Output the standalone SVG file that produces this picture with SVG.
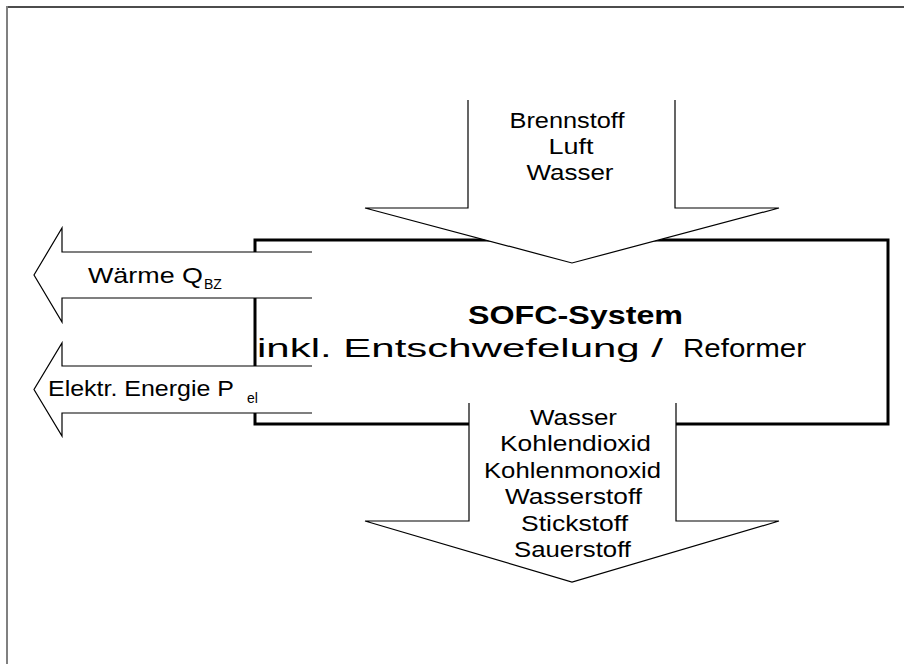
<svg xmlns="http://www.w3.org/2000/svg" width="904" height="664" viewBox="0 0 904 664">
  <style>
    .t { font-family: "Liberation Sans", Arial, sans-serif; font-size: 22px; fill: #000; }
    .big { font-family: "Liberation Sans", Arial, sans-serif; font-size: 25px; fill: #000; }
    .sub { font-family: "Liberation Sans", Arial, sans-serif; font-size: 14px; fill: #000; }
    .arrow { fill: #fff; stroke: #000; stroke-width: 1.2; stroke-linejoin: miter; }
  </style>
  <rect x="0" y="0" width="904" height="664" fill="#fff"/>
  <!-- page frame -->
  <line x1="6" y1="7" x2="904" y2="7" stroke="#111" stroke-width="1.5"/>
  <line x1="7" y1="6" x2="7" y2="664" stroke="#808080" stroke-width="2"/>

  <!-- system box -->
  <g id="system">
    <rect x="255" y="240" width="633" height="184" fill="none" stroke="#000" stroke-width="3"/>
  </g>

  <g id="connectors">
    <!-- inputs (down into the box) -->
    <path id="arrow-in" class="arrow" d="M468,100 V208 H365 L572,263 L779,208 H675 V100"/>
    <!-- heat output -->
    <path id="arrow-heat" class="arrow" d="M312,252 H62 V228 L34,275 L62,322 V298 H312"/>
    <!-- electric output -->
    <path id="arrow-el" class="arrow" d="M312,366 H62 V343 L34,389.5 L62,436 V413 H312"/>
    <!-- exhaust output -->
    <path id="arrow-out" class="arrow" d="M469,403 V521 H365 L572,582 L779,521 H676 V403"/>
  </g>

  <g id="system-label">
    <text class="big" x="575.5" y="324" text-anchor="middle" font-weight="bold" textLength="215" lengthAdjust="spacingAndGlyphs">SOFC-System</text>
    <text class="big" x="257" y="357" textLength="406" lengthAdjust="spacingAndGlyphs">inkl. Entschwefelung /</text>
    <text class="big" x="683" y="357" textLength="123" lengthAdjust="spacingAndGlyphs">Reformer</text>
  </g>

  <g id="inputs-label">
    <text class="t" x="567" y="128" text-anchor="middle" textLength="115" lengthAdjust="spacingAndGlyphs">Brennstoff</text>
    <text class="t" x="571" y="154" text-anchor="middle" textLength="45" lengthAdjust="spacingAndGlyphs">Luft</text>
    <text class="t" x="570" y="180" text-anchor="middle" textLength="87" lengthAdjust="spacingAndGlyphs">Wasser</text>
  </g>

  <g id="heat-label">
    <text class="t" x="88" y="283" textLength="115" lengthAdjust="spacingAndGlyphs">Wärme Q</text>
    <text class="sub" x="204" y="289">BZ</text>
  </g>

  <g id="el-label">
    <text class="t" x="48" y="396" textLength="186" lengthAdjust="spacingAndGlyphs">Elektr. Energie P</text>
    <text class="sub" x="247" y="403">el</text>
  </g>

  <g id="outputs-label">
    <text class="t" x="573.5" y="425" text-anchor="middle" textLength="87" lengthAdjust="spacingAndGlyphs">Wasser</text>
    <text class="t" x="575.5" y="451" text-anchor="middle" textLength="151" lengthAdjust="spacingAndGlyphs">Kohlendioxid</text>
    <text class="t" x="572.5" y="478" text-anchor="middle" textLength="177" lengthAdjust="spacingAndGlyphs">Kohlenmonoxid</text>
    <text class="t" x="573.5" y="504" text-anchor="middle" textLength="137" lengthAdjust="spacingAndGlyphs">Wasserstoff</text>
    <text class="t" x="574.5" y="531" text-anchor="middle" textLength="107" lengthAdjust="spacingAndGlyphs">Stickstoff</text>
    <text class="t" x="572.5" y="557" text-anchor="middle" textLength="117" lengthAdjust="spacingAndGlyphs">Sauerstoff</text>
  </g>
</svg>
